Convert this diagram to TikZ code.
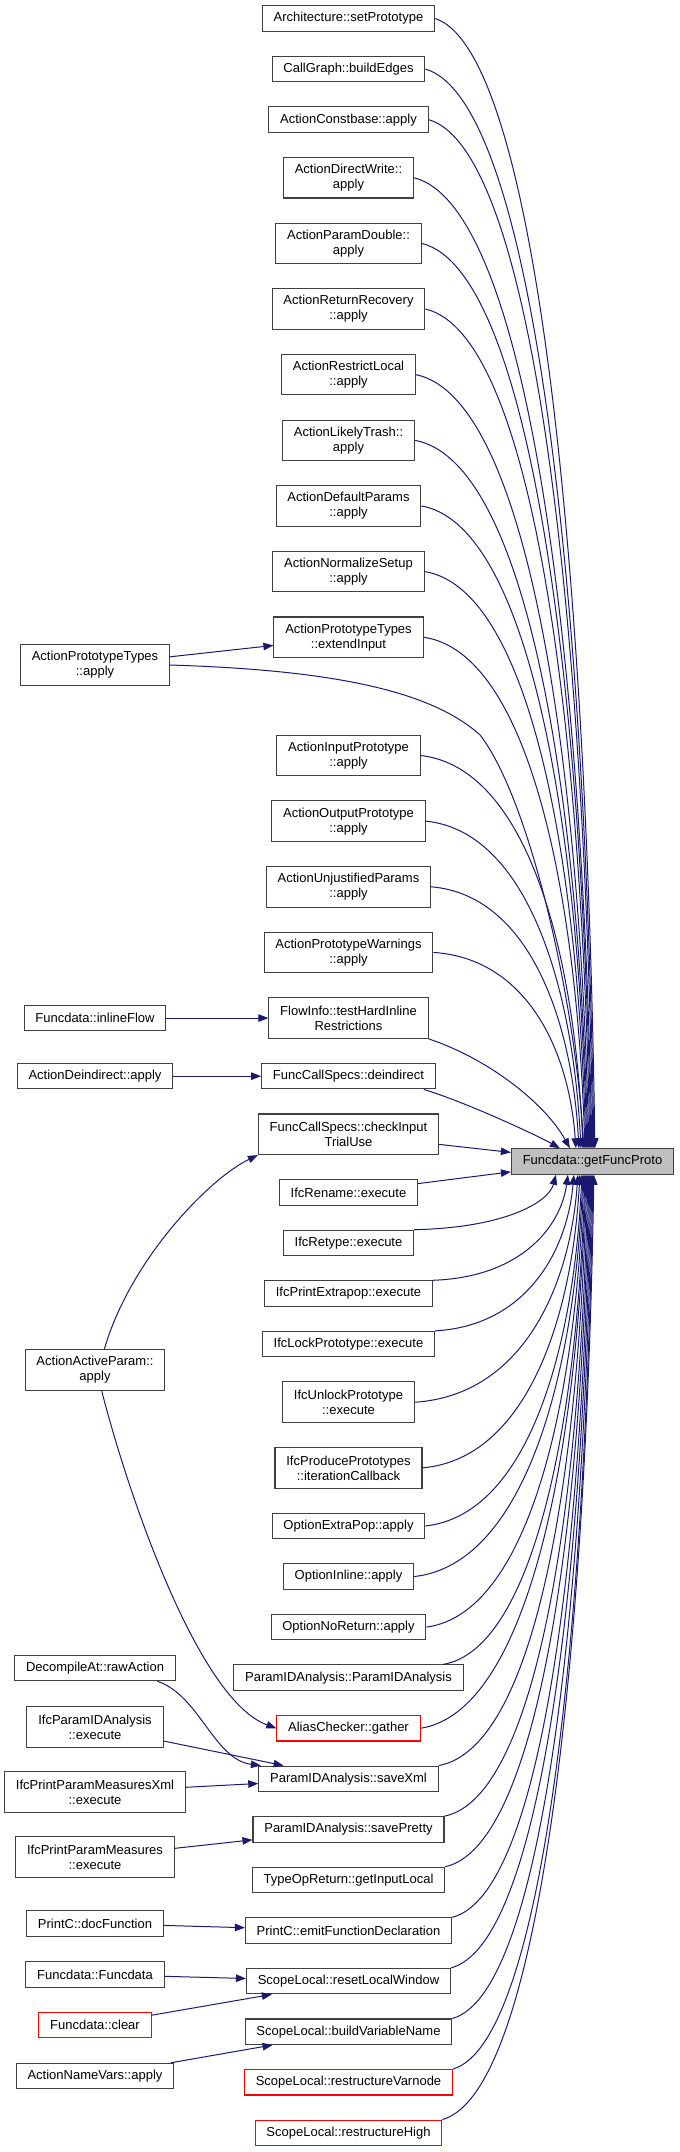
\documentclass[tikz,border=0pt]{standalone}
\usepackage{fontspec}
\setmainfont{Liberation Sans}
\usetikzlibrary{arrows.meta,positioning,calc}
\definecolor{EdgeBlue}{RGB}{25,25,112}
\definecolor{BoxGray}{RGB}{64,64,64}
\definecolor{FocusGray}{RGB}{191,191,191}

\begin{document}
\begin{tikzpicture}[
    x=0.75pt, y=-0.75pt,
    node distance=18.03pt,
    box/.style={rectangle, draw=#1, fill=white, line width=0.8pt,
                font=\fontsize{9.75}{11.25}\selectfont, align=center, text=black,
                inner xsep=8.5pt, inner ysep=2pt, minimum height=19.1pt},
    box/.default=BoxGray,
    two/.style={minimum height=30.4pt},
    arr/.style={-{Triangle[length=7.5pt,width=5.6pt]}, draw=EdgeBlue, line width=0.75pt},
]
\useasboundingbox (0,0) rectangle (679,2152);

% ── Callee ──
\node[box, fill=FocusGray] (getproto) at (592.5,1161.5) {Funcdata::getFuncProto};

% ── Direct callers, one column ──
\node[box] (setproto) at (348.5,18.5) {Architecture::setPrototype};
\node[box, below=of setproto] (buildedges) {CallGraph::buildEdges};
\node[box, below=of buildedges] (constbase) {ActionConstbase::apply};
\node[box, two, below=of constbase] (directwrite) {ActionDirectWrite::\\apply};
\node[box, two, below=of directwrite] (paramdouble) {ActionParamDouble::\\apply};
\node[box, two, below=of paramdouble] (retrecovery) {ActionReturnRecovery\\::apply};
\node[box, two, below=of retrecovery] (restrictlocal) {ActionRestrictLocal\\::apply};
\node[box, two, below=of restrictlocal] (likelytrash) {ActionLikelyTrash::\\apply};
\node[box, two, below=of likelytrash] (defparams) {ActionDefaultParams\\::apply};
\node[box, two, below=of defparams] (normsetup) {ActionNormalizeSetup\\::apply};
\node[box, two, below=of normsetup] (extendinput) {ActionPrototypeTypes\\::extendInput};
\node[box, two, below=57.5pt of extendinput] (inputproto) {ActionInputPrototype\\::apply};
\node[box, two, below=of inputproto] (outputproto) {ActionOutputPrototype\\::apply};
\node[box, two, below=of outputproto] (unjustified) {ActionUnjustifiedParams\\::apply};
\node[box, two, below=of unjustified] (protowarn) {ActionPrototypeWarnings\\::apply};
\node[box, two, below=of protowarn] (hardinline) {FlowInfo::testHardInline\\Restrictions};
\node[box, below=of hardinline] (deindirect) {FuncCallSpecs::deindirect};
\node[box, two, below=of deindirect] (checkinput) {FuncCallSpecs::checkInput\\TrialUse};
\node[box, below=of checkinput] (ifcrename) {IfcRename::execute};
\node[box, below=of ifcrename] (ifcretype) {IfcRetype::execute};
\node[box, below=of ifcretype] (ifcextrapop) {IfcPrintExtrapop::execute};
\node[box, below=of ifcextrapop] (ifclock) {IfcLockPrototype::execute};
\node[box, two, below=of ifclock] (ifcunlock) {IfcUnlockPrototype\\::execute};
\node[box, two, below=of ifcunlock] (ifcproduce) {IfcProducePrototypes\\::iterationCallback};
\node[box, below=of ifcproduce] (optextrapop) {OptionExtraPop::apply};
\node[box, below=of optextrapop] (optinline) {OptionInline::apply};
\node[box, below=of optinline] (optnoreturn) {OptionNoReturn::apply};
\node[box, below=of optnoreturn] (pidctor) {ParamIDAnalysis::ParamIDAnalysis};
\node[box=red, below=of pidctor] (gather) {AliasChecker::gather};
\node[box, below=of gather] (savexml) {ParamIDAnalysis::saveXml};
\node[box, below=of savexml] (savepretty) {ParamIDAnalysis::savePretty};
\node[box, below=of savepretty] (getinputlocal) {TypeOpReturn::getInputLocal};
\node[box, below=of getinputlocal] (emitdecl) {PrintC::emitFunctionDeclaration};
\node[box, below=of emitdecl] (resetwindow) {ScopeLocal::resetLocalWindow};
\node[box, below=of resetwindow] (buildvarname) {ScopeLocal::buildVariableName};
\node[box=red, below=of buildvarname] (restructvn) {ScopeLocal::restructureVarnode};
\node[box=red, below=of restructvn] (restructhigh) {ScopeLocal::restructureHigh};

% ── Second level callers ──
\coordinate (leftcol) at (95,0);
\node[box, two] (prototypes) at (95,665) {ActionPrototypeTypes\\::apply};
\node[box] (inlineflow) at (hardinline -| leftcol) {Funcdata::inlineFlow};
\node[box] (actdeindirect) at (deindirect -| leftcol) {ActionDeindirect::apply};
\node[box, two] (activeparam) at (95,1370) {ActionActiveParam::\\apply};
\node[box] (rawaction) at (95,1668) {DecompileAt::rawAction};
\node[box, two] (ifcparamid) at (95,1727) {IfcParamIDAnalysis\\::execute};
\node[box, two] (ifcmeasxml) at (95,1792) {IfcPrintParamMeasuresXml\\::execute};
\node[box, two] (ifcmeas) at (95,1857) {IfcPrintParamMeasures\\::execute};
\node[box] (docfunction) at (95,1923.5) {PrintC::docFunction};
\node[box] (fdctor) at (95,1974.5) {Funcdata::Funcdata};
\node[box=red] (fdclear) at (95,2025) {Funcdata::clear};
\node[box] (namevars) at (95,2076) {ActionNameVars::apply};

% ── Calls coming in from above ──
\draw[arr] (setproto.east) .. controls +(103,34) and +(-8,-565) .. ($(getproto.north west)+(84,0)$);
\draw[arr] (buildedges.east) .. controls +(110,32) and +(-8,-540) .. ($(getproto.north west)+(83,0)$);
\draw[arr] (constbase.east) .. controls +(107,31) and +(-8,-515) .. ($(getproto.north west)+(82,0)$);
\draw[arr] (directwrite.east) .. controls +(115,29) and +(-9,-485) .. ($(getproto.north west)+(81,0)$);
\draw[arr] (paramdouble.east) .. controls +(110,27) and +(-8,-452) .. ($(getproto.north west)+(80,0)$);
\draw[arr] (retrecovery.east) .. controls +(108,25) and +(-8,-420) .. ($(getproto.north west)+(79,0)$);
\draw[arr] (restrictlocal.east) .. controls +(112,23) and +(-9,-387) .. ($(getproto.north west)+(78,0)$);
\draw[arr] (likelytrash.east) .. controls +(112,21) and +(-9,-354) .. ($(getproto.north west)+(77,0)$);
\draw[arr] (defparams.east) .. controls +(108,19) and +(-8,-322) .. ($(getproto.north west)+(76,0)$);
\draw[arr] (normsetup.east) .. controls +(105,17) and +(-8,-290) .. ($(getproto.north west)+(75,0)$);
\draw[arr] (extendinput.east) .. controls +(105,15) and +(-8,-256) .. ($(getproto.north west)+(74,0)$);
\draw[arr] (prototypes.east) .. controls +(160,5) and +(-50,-45) .. ++(310,70)
    .. controls +(50,65) and +(-9,-149) .. ($(getproto.north west)+(73,0)$);
\draw[arr] (inputproto.east) .. controls +(106,12) and +(-8,-198) .. ($(getproto.north west)+(72,0)$);
\draw[arr] (outputproto.east) .. controls +(100,10) and +(-8,-165) .. ($(getproto.north west)+(70,0)$);
\draw[arr] (unjustified.east) .. controls +(96,8) and +(-7,-132) .. ($(getproto.north west)+(68,0)$);
\draw[arr] (protowarn.east) .. controls +(92,6) and +(-7,-100) .. ($(getproto.north west)+(65,0)$);
\draw[arr] (hardinline.south east) .. controls +(60,20) and +(-25,-45) .. ($(getproto.north west)+(59,0)$);
\draw[arr] (deindirect.-10) .. controls +(40,12) and +(-25,-14) .. ($(getproto.north west)+(49,0)$);
\draw[arr] (checkinput) -- (getproto);
\draw[arr] (ifcrename) -- (getproto);

% ── Calls coming in from below ──
\draw[arr] (ifcretype.north east) .. controls +(92,-2) and +(-7,27) .. ($(getproto.south west)+(45,0)$);
\draw[arr] (ifcextrapop.north east) .. controls +(88,-3) and +(-7,52) .. ($(getproto.south west)+(57,0)$);
\draw[arr] (ifclock.north east) .. controls +(90,-5) and +(-7,78) .. ($(getproto.south west)+(63,0)$);
\draw[arr] (ifcunlock.east) .. controls +(107,-7) and +(-8,113) .. ($(getproto.south west)+(67,0)$);
\draw[arr] (ifcproduce.east) .. controls +(103,-9) and +(-8,146) .. ($(getproto.south west)+(69,0)$);
\draw[arr] (optextrapop.east) .. controls +(102,-11) and +(-8,175) .. ($(getproto.south west)+(71,0)$);
\draw[arr] (optinline.east) .. controls +(110,-12) and +(-8,201) .. ($(getproto.south west)+(72,0)$);
\draw[arr] (optnoreturn.east) .. controls +(103,-14) and +(-8,226) .. ($(getproto.south west)+(73,0)$);
\draw[arr] (pidctor.8) .. controls +(91,-15) and +(-7,245) .. ($(getproto.south west)+(74,0)$);
\draw[arr] (gather.east) .. controls +(108,-17) and +(-8,277) .. ($(getproto.south west)+(75,0)$);
\draw[arr] (savexml.north east) .. controls +(98,-18) and +(-8,296) .. ($(getproto.south west)+(76,0)$);
\draw[arr] (savepretty.north east) .. controls +(94,-19) and +(-7,321) .. ($(getproto.south west)+(77,0)$);
\draw[arr] (getinputlocal.north east) .. controls +(94,-21) and +(-7,346) .. ($(getproto.south west)+(78,0)$);
\draw[arr] (emitdecl.north east) .. controls +(90,-22) and +(-7,372) .. ($(getproto.south west)+(79,0)$);
\draw[arr] (resetwindow.north east) .. controls +(91,-24) and +(-7,397) .. ($(getproto.south west)+(80,0)$);
\draw[arr] (buildvarname.north east) .. controls +(91,-25) and +(-7,422) .. ($(getproto.south west)+(81,0)$);
\draw[arr] (restructvn.north east) .. controls +(91,-27) and +(-7,448) .. ($(getproto.south west)+(82,0)$);
\draw[arr] (restructhigh.north east) .. controls +(99,-28) and +(-8,473) .. ($(getproto.south west)+(83,0)$);

% ── Second level calls ──
\draw[arr] (prototypes) -- (extendinput);
\draw[arr] (inlineflow) -- (hardinline);
\draw[arr] (actdeindirect) -- (deindirect);
\draw[arr] ([xshift=7pt]activeparam.north) .. controls +(26,-90) and +(-48,23) .. (checkinput.south west);
\draw[arr] ([xshift=5pt]activeparam.south) .. controls +(28,109) and +(-77,-28) .. (gather.west);
\draw[arr] (rawaction.-12) .. controls +(42,14) and +(-47,-6) .. ([xshift=2pt]savexml.north west);
\draw[arr] (ifcparamid) -- (savexml);
\draw[arr] (ifcmeasxml) -- (savexml);
\draw[arr] (ifcmeas) -- (savepretty);
\draw[arr] (docfunction) -- (emitdecl);
\draw[arr] (fdctor) -- (resetwindow);
\draw[arr] (fdclear) -- (resetwindow);
\draw[arr] (namevars) -- (buildvarname);

\end{tikzpicture}
\end{document}
